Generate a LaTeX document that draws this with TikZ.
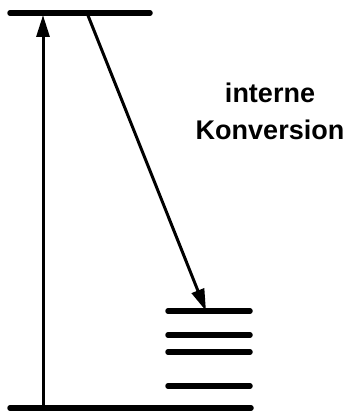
\documentclass[tikz,border=0pt]{standalone}
\usepackage{fontspec}
\setmainfont{Liberation Sans}
\usetikzlibrary{arrows.meta}
\begin{document}
\begin{tikzpicture}[x=1pt, y=-1pt, every node/.style={align=center}]
\tikzset{
  level/.style={line width=5.5pt, line cap=round},
  transition/.style={-{Triangle[length=22pt, width=13pt]}, line width=3pt},
  relabel/.style={font=\bfseries\fontsize{27}{37}\selectfont, inner sep=0pt}
}
\useasboundingbox (0,0) rectangle (362,412);
% energy levels
\coordinate (s1l) at (10,13);
\coordinate (s1r) at (150,13);
\coordinate (s0l) at (10,408);
\coordinate (s0r) at (251,408);
\draw[level] (s1l) -- (s1r);
\draw[level] (s0l) -- (s0r);
\foreach \name/\y in {v3/311, v2/335, v1/352, v0/386} {
  \coordinate (\name l) at (168,\y);
  \coordinate (\name r) at (250,\y);
  \draw[level] (\name l) -- (\name r);
}
% transitions
\coordinate (absfrom) at (43,406);
\coordinate (absto) at (43,15);
\coordinate (icfrom) at (87,13);
\coordinate (icto) at (206,311);
\draw[transition] (absfrom) -- (absto);
\draw[transition] (icfrom) -- (icto);
\node[relabel] (iclabel) at (270,111) {interne\\Konversion};
\end{tikzpicture}
\end{document}
